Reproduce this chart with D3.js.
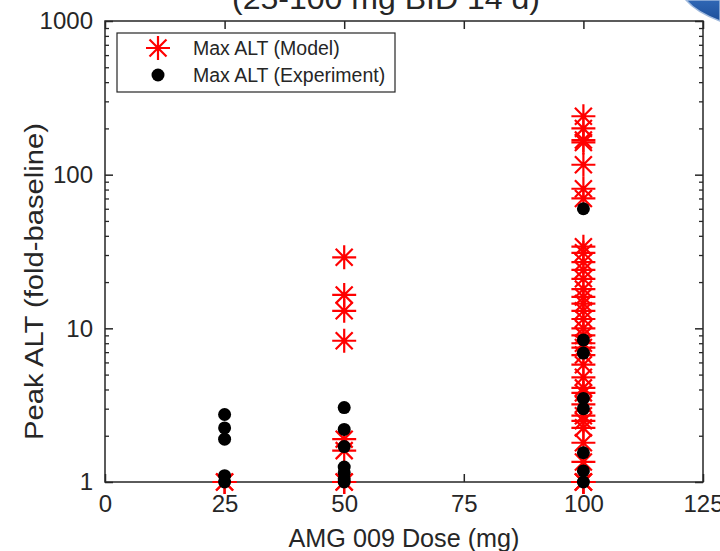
<!DOCTYPE html>
<html>
<head>
<meta charset="utf-8">
<script src="https://cdn.jsdelivr.net/npm/d3@7"></script>
<style>
  html, body { margin: 0; padding: 0; background: #fff; }
  svg { display: block; }
  text { font-family: "Liberation Sans", Arial, sans-serif; fill: #262626; }
</style>
</head>
<body>
<svg id="chart" width="720" height="551"></svg>
<script>
// ---- data ----
const titleText = "(25-100 mg BID 14 d)";
const xLabel = "AMG 009 Dose (mg)";
const yLabel = "Peak ALT (fold-baseline)";
const xTicks = [0, 25, 50, 75, 100, 125];
const yTicks = [1, 10, 100, 1000];
const legendLabels = ["Max ALT (Model)", "Max ALT (Experiment)"];

const modelDose25 = [1, 1];
const modelDose50 = [29, 16.5, 13, 8.3, 1.9, 1.6, 1, 1];
const modelDose100 = [240, 200, 168, 162, 116, 81, 70, 34, 31, 27, 24, 21, 18, 16, 14.5, 13,
  11.5, 10, 9, 8, 7.5, 6.7, 5.8, 4.8, 4.1, 3.8, 3.2, 2.7, 2.5, 2.25, 1.8, 1.35, 1, 1, 1];
const expDose25 = [2.75, 2.25, 1.9, 1.1, 1.0];
const expDose50 = [3.05, 2.2, 1.7, 1.25, 1.15, 1.05, 1.0];
const expDose100 = [60, 8.4, 6.9, 3.5, 3.0, 1.55, 1.18, 1.0];

const modelPoints = [
  ...modelDose25.map(v => ({dose: 25, v})),
  ...modelDose50.map(v => ({dose: 50, v})),
  ...modelDose100.map(v => ({dose: 100, v}))
];
const expPoints = [
  ...expDose25.map(v => ({dose: 25, v})),
  ...expDose50.map(v => ({dose: 50, v})),
  ...expDose100.map(v => ({dose: 100, v}))
];

// ---- layout ----
const svg = d3.select("#chart");
const L = 105, R = 703, T = 21, B = 482;
const axisColor = "#262626";

const x = d3.scaleLinear().domain([0, 125]).range([L, R]);
const y = d3.scaleLog().domain([1, 1000]).range([B, T]);

// blue decoration in the top-right corner
const grad = svg.append("defs").append("linearGradient")
  .attr("id", "bluegrad").attr("x1", "0").attr("y1", "0").attr("x2", "0").attr("y2", "1");
grad.append("stop").attr("offset", "0%").attr("stop-color", "#2f67b5");
grad.append("stop").attr("offset", "100%").attr("stop-color", "#1d4f9a");
svg.append("path")
  .attr("d", "M686,0 Q696,12 720,21 L720,0 Z")
  .attr("fill", "url(#bluegrad)")
  .attr("stroke", "#9fb9dd").attr("stroke-width", 1.5);

// title (partially cut off at top, as in the reference)
svg.append("text")
  .attr("x", 386).attr("y", 9)
  .attr("text-anchor", "middle")
  .attr("font-size", 29)
  .attr("textLength", 308).attr("lengthAdjust", "spacingAndGlyphs")
  .text(titleText);

// axes box
const g = svg.append("g");
g.append("rect")
  .attr("x", L).attr("y", T).attr("width", R - L).attr("height", B - T)
  .attr("fill", "none").attr("stroke", axisColor).attr("stroke-width", 1.5);

// x axis ticks bottom & top (inward)
const xAxisB = d3.axisBottom(x).tickValues(xTicks).tickSize(-8).tickPadding(13).tickFormat(d3.format("d"));
const gxb = g.append("g").attr("transform", `translate(0,${B})`).call(xAxisB);
gxb.select(".domain").remove();
gxb.selectAll("line").attr("stroke", axisColor).attr("stroke-width", 1.5);
gxb.selectAll("text").attr("font-size", 24).attr("fill", axisColor)
  .style("font-family", '"Liberation Sans", Arial, sans-serif');

const xAxisT = d3.axisTop(x).tickValues(xTicks).tickSize(-8).tickFormat("");
const gxt = g.append("g").attr("transform", `translate(0,${T})`).call(xAxisT);
gxt.select(".domain").remove();
gxt.selectAll("line").attr("stroke", axisColor).attr("stroke-width", 1.5);

// y axis: major ticks with labels, minor ticks
const minor = [];
for (let d = 1; d < 1000; d *= 10) for (let k = 2; k <= 9; k++) minor.push(d * k);

const yAxisL = d3.axisLeft(y).tickValues(yTicks).tickSize(-8).tickPadding(12).tickFormat(d3.format("d"));
const gyl = g.append("g").attr("transform", `translate(${L},0)`).call(yAxisL);
gyl.select(".domain").remove();
gyl.selectAll("line").attr("stroke", axisColor).attr("stroke-width", 1.5);
gyl.selectAll("text").attr("font-size", 24).attr("fill", axisColor)
  .style("font-family", '"Liberation Sans", Arial, sans-serif');

const gylm = g.append("g").attr("transform", `translate(${L},0)`)
  .call(d3.axisLeft(y).tickValues(minor).tickSize(-4).tickFormat(""));
gylm.select(".domain").remove();
gylm.selectAll("line").attr("stroke", axisColor).attr("stroke-width", 1.3);

const gyr = g.append("g").attr("transform", `translate(${R},0)`)
  .call(d3.axisRight(y).tickValues(yTicks).tickSize(-8).tickFormat(""));
gyr.select(".domain").remove();
gyr.selectAll("line").attr("stroke", axisColor).attr("stroke-width", 1.5);
const gyrm = g.append("g").attr("transform", `translate(${R},0)`)
  .call(d3.axisRight(y).tickValues(minor).tickSize(-4).tickFormat(""));
gyrm.select(".domain").remove();
gyrm.selectAll("line").attr("stroke", axisColor).attr("stroke-width", 1.3);

// axis labels
svg.append("text")
  .attr("x", (L + R) / 2).attr("y", 547)
  .attr("text-anchor", "middle").attr("font-size", 25)
  .attr("textLength", 231).attr("lengthAdjust", "spacingAndGlyphs")
  .text(xLabel);

svg.append("text")
  .attr("transform", `translate(43,${(T + B) / 2 + 30}) rotate(-90)`)
  .attr("text-anchor", "middle").attr("font-size", 25)
  .attr("textLength", 317).attr("lengthAdjust", "spacingAndGlyphs")
  .text(yLabel);

// asterisk marker path
const arm = 12, diag = 12 * Math.SQRT1_2;
function asterisk(cx, cy) {
  return `M${cx - arm},${cy}L${cx + arm},${cy}M${cx},${cy - arm}L${cx},${cy + arm}` +
    `M${cx - diag},${cy - diag}L${cx + diag},${cy + diag}M${cx - diag},${cy + diag}L${cx + diag},${cy - diag}`;
}

const marks = svg.append("g");
marks.selectAll("path.model").data(modelPoints).join("path")
  .attr("class", "model")
  .attr("d", d => asterisk(x(d.dose), y(d.v)))
  .attr("stroke", "#ff0000").attr("stroke-width", 2.2).attr("fill", "none");

marks.selectAll("circle.exp").data(expPoints).join("circle")
  .attr("class", "exp")
  .attr("cx", d => x(d.dose)).attr("cy", d => y(d.v)).attr("r", 6.5)
  .attr("fill", "#000");

// legend
const lg = svg.append("g");
lg.append("rect").attr("x", 117).attr("y", 33).attr("width", 278).attr("height", 59)
  .attr("fill", "#fff").attr("stroke", axisColor).attr("stroke-width", 1.2);
lg.append("path").attr("d", asterisk(158, 48))
  .attr("stroke", "#ff0000").attr("stroke-width", 2.2).attr("fill", "none");
lg.append("circle").attr("cx", 158).attr("cy", 75).attr("r", 6.5).attr("fill", "#000");
lg.selectAll("text.leg").data(legendLabels).join("text")
  .attr("class", "leg")
  .attr("x", 193).attr("y", (d, i) => 48 + i * 27)
  .attr("dy", "0.35em").attr("font-size", 19.5)
  .attr("fill", "#000")
  .text(d => d);
</script>
</body>
</html>
